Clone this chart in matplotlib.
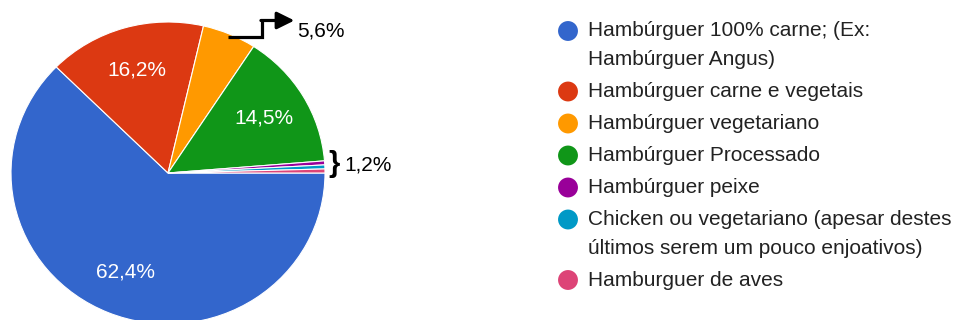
import numpy as np
import matplotlib
matplotlib.use('Agg')
import matplotlib.pyplot as plt

plt.rcParams['font.family'] = ['Liberation Sans', 'DejaVu Sans']

# Survey answers (counts), order as in the legend
labels = ['Hambúrguer 100% carne; (Ex:\nHambúrguer Angus)',
          'Hambúrguer carne e vegetais',
          'Hambúrguer vegetariano',
          'Hambúrguer Processado',
          'Hambúrguer peixe',
          'Chicken ou vegetariano (apesar destes\núltimos serem um pouco enjoativos)',
          'Hamburguer de aves']
counts = [146, 38, 13, 34, 1, 1, 1]
colors = ['#3366cc', '#dc3912', '#ff9900', '#109618', '#990099', '#0099c6', '#dd4477']
small_note = '1,2%'


def pct_fmt(p):
    # only the big slices get a label inside the pie
    if p < 10:
        return ''
    return f'{p:.1f}'.replace('.', ',') + '%'


W, H = 955, 320
fig = plt.figure(figsize=(W / 100, H / 100), dpi=100)

# pie axes: centre at (168, 173) px, radii 157 x 151 px (slightly squashed in the original)
cx, cy, rx, ry = 168, 173, 157, 151
m = 1.05
ax = fig.add_axes([(cx - m * rx) / W, (H - cy - m * ry) / H, 2 * m * rx / W, 2 * m * ry / H])
wedges, texts, autotexts = ax.pie(counts, colors=colors, startangle=0, counterclock=False,
                                  autopct=pct_fmt, pctdistance=0.71,
                                  wedgeprops=dict(edgecolor='white', linewidth=0.8),
                                  textprops=dict(color='white', fontsize=15))
ax.set_xlim(-m, m)
ax.set_ylim(-m, m)
ax.set_aspect('auto')

# elbow arrow for the orange slice
orange = wedges[2]
mid = np.deg2rad((orange.theta1 + orange.theta2) / 2)
x0, y0 = 0.98 * np.cos(mid), 0.98 * np.sin(mid)
xe, ye = 0.60, 1.01
ax.plot([x0, xe, xe], [y0, y0, ye], color='black', lw=2.3, clip_on=False,
        solid_joinstyle='miter', solid_capstyle='butt')
ax.annotate('', xy=(0.805, ye), xytext=(xe - 0.008, ye),
            arrowprops=dict(arrowstyle='-|>,head_length=1.05,head_width=0.52',
                            mutation_scale=10, color='black', lw=2.3,
                            shrinkA=0, shrinkB=0),
            annotation_clip=False)
pct_orange = counts[2] / sum(counts) * 100
ax.text(0.822, 0.94, f'{pct_orange:.1f}'.replace('.', ',') + '%', fontsize=15,
        va='center', ha='left', color='black', clip_on=False)

# bracket for the three tiny slices
ax.text(1.022, 0.06, '}', fontsize=21, fontweight='bold', va='center', ha='left',
        color='black', clip_on=False)
ax.text(1.122, 0.053, small_note, fontsize=15, va='center', ha='left', color='black',
        clip_on=False)

# legend drawn in pixel space
lg = fig.add_axes([0, 0, 1, 1])
lg.set_xlim(0, W)
lg.set_ylim(H, 0)
lg.axis('off')
y = 31
for lab, col in zip(labels, colors):
    lg.scatter([568], [y], s=205, color=col, edgecolors='none')
    lines = lab.split('\n')
    for i, line in enumerate(lines):
        lg.text(588, y + i * 28.5, line, fontsize=15, color='#222222', va='center', ha='left')
    y += 32 + 28.5 * (len(lines) - 1)

fig.savefig('out.png', dpi=100)
